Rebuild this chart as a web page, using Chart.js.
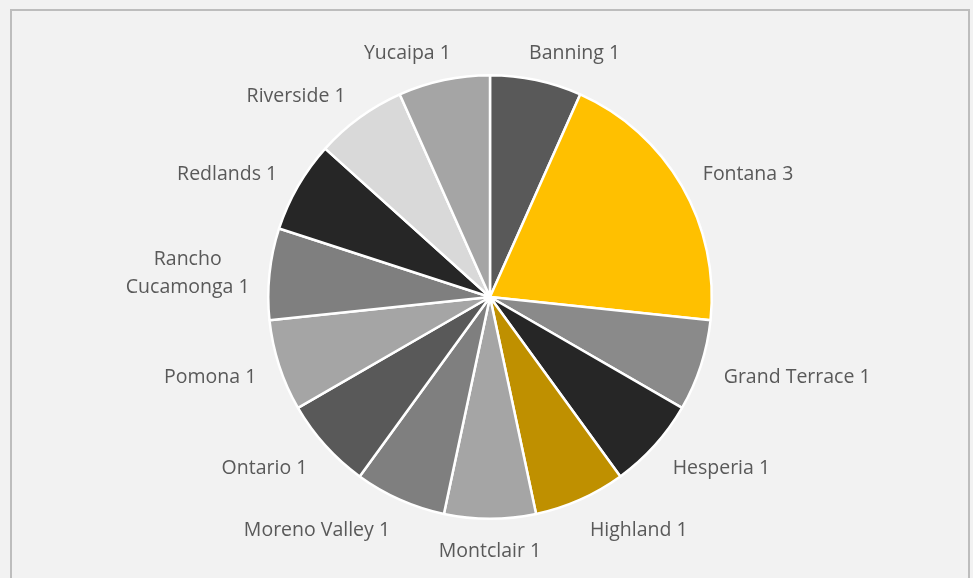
<!DOCTYPE html>
<html>
<head>
<meta charset="utf-8">
<script src="https://cdn.jsdelivr.net/npm/chart.js@4"></script>
<style>
  html, body { margin: 0; padding: 0; background: #f2f2f2; }
  #wrap { width: 973px; height: 578px; position: relative; }
</style>
</head>
<body>
<div id="wrap"><canvas id="pie" width="973" height="578"></canvas></div>
<script>
const cities = [
    'Banning', 'Fontana', 'Grand Terrace', 'Hesperia', 'Highland', 'Montclair',
    'Moreno Valley', 'Ontario', 'Pomona', ['Rancho', 'Cucamonga'], 'Redlands',
    'Riverside', 'Yucaipa'
]
const counts = [1, 3, 1, 1, 1, 1, 1, 1, 1, 1, 1, 1, 1]
const sliceColors = [
    '#595959', '#ffc000', '#8a8a8a', '#262626', '#bf9000', '#a5a5a5',
    '#7f7f7f', '#595959', '#a5a5a5', '#7f7f7f', '#262626', '#d9d9d9', '#a5a5a5'
]

// frame around the plot, like the spreadsheet chart area
const frame = {
    id: 'frame',
    beforeDraw(chart) {
        const ctx = chart.ctx
        ctx.save()
        ctx.fillStyle = '#f2f2f2'
        ctx.fillRect(0, 0, chart.width, chart.height)
        ctx.strokeStyle = '#bdbdbd'
        ctx.lineWidth = 2
        ctx.strokeRect(11, 10, 958, 600)
        ctx.restore()
    }
}

// category + value labels outside each slice
const outsideLabels = {
    id: 'outsideLabels',
    afterDatasetsDraw(chart) {
        const ctx = chart.ctx
        const meta = chart.getDatasetMeta(0)
        ctx.save()
        ctx.font = '19.5px "Open Sans", sans-serif'
        ctx.fillStyle = '#595959'
        ctx.textBaseline = 'middle'
        const lineH = 28
        meta.data.forEach((arc, i) => {
            const p = arc.getProps(['x', 'y', 'startAngle', 'endAngle', 'outerRadius'], true)
            const mid = (p.startAngle + p.endAngle) / 2
            const s = Math.cos(mid)   // horizontal component
            const c = Math.sin(mid)   // vertical component (down positive)
            const r = p.outerRadius + 24
            let px = p.x + r * s
            const py = p.y + r * c + c * 6 + 3
            let name = cities[i]
            let lines = Array.isArray(name) ? name.slice() : [name]
            lines[lines.length - 1] += ' ' + counts[i]
            const w = Math.max(...lines.map(l => ctx.measureText(l).width))
            let cx
            if (Math.abs(s) < 0.05) {
                cx = px
            } else {
                if (c < -0.9) px -= Math.sign(s) * 12
                if (Math.abs(s) > 0.99) px -= Math.sign(s) * 4
                cx = px + Math.sign(s) * w / 2
            }
            const top = py - (lines.length - 1) * lineH / 2
            ctx.textAlign = 'center'
            lines.forEach((l, k) => ctx.fillText(l, cx, top + k * lineH))
        })
        ctx.restore()
    }
}

new Chart(document.getElementById('pie').getContext('2d'), {
    type: 'pie',
    data: {
        labels: cities,
        datasets: [{
            data: counts,
            backgroundColor: sliceColors,
            borderColor: '#ffffff',
            borderWidth: 2.5,
            hoverOffset: 0
        }]
    },
    options: {
        responsive: false,
        animation: false,
        layout: {
            padding: { left: 267, right: 260, top: 74, bottom: 58 }
        },
        plugins: {
            legend: { display: false },
            tooltip: { enabled: false }
        }
    },
    plugins: [frame, outsideLabels]
})
</script>
</body>
</html>
